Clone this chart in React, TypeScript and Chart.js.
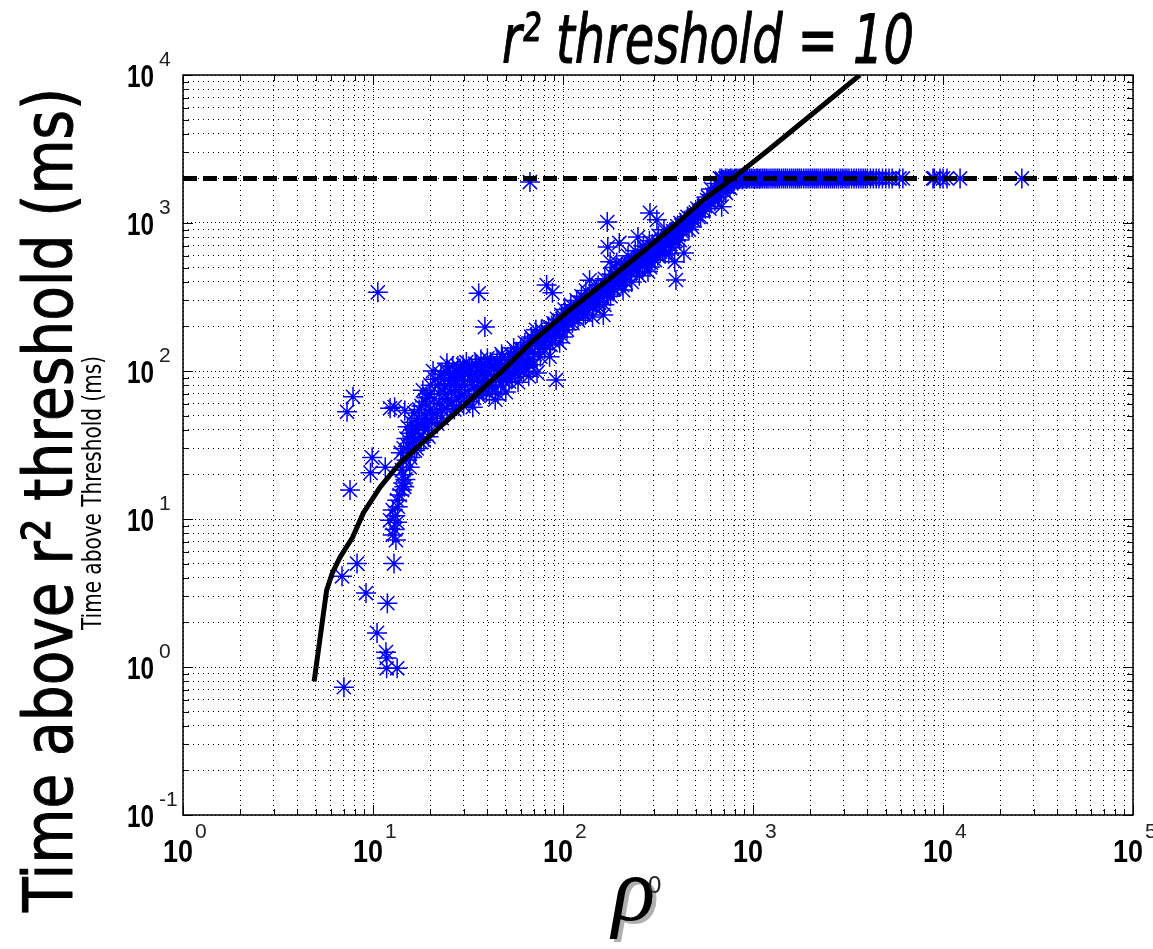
import React, { useEffect, useRef } from 'react';
import { Chart, registerables } from 'chart.js';

Chart.register(...registerables);

const W = 1153;
const H = 949;

// ---- text ----
const titleText = 'r² threshold = 10';
const yLabelMain = 'Time above r² threshold (ms)';
const yLabelSub = 'Time above Threshold (ms)';
const xLabelSymbol = 'ρ';
const xLabelSup = '0';

// ---- axes ----
const xMajorTicks = [1, 10, 100, 1000, 10000, 100000];
const xTickExponents = ['0', '1', '2', '3', '4', '5'];
const yMajorTicks = [0.1, 1, 10, 100, 1000, 10000];
const yTickExponents = ['-1', '0', '1', '2', '3', '4'];
const minorMultipliers = [2, 3, 4, 5, 6, 7, 8, 9];

// ---- fitted curve (solid black) ----
const fitX = [4.9, 5.7, 6.1, 6.7, 7.8, 8.9, 10.9, 13.9, 20.7, 31.2, 46.6, 69.5, 105, 157, 250, 400, 546, 800, 1200, 2000, 3650];
const fitY = [0.8, 3.3, 4.3, 5.5, 7.5, 11, 16.4, 24, 38, 61, 97, 160, 250, 375, 605, 1000, 1430, 2050, 3100, 5300, 10000];

// ---- threshold (dashed black) ----
const thresholdX = [1, 100000];
const thresholdY = [2000, 2000];

// ---- scatter (blue asterisks) ----
const outlierPoints: [number, number][] = [
  [10.6, 340], [36, 335], [38.8, 198], [67, 1890], [7.85, 67], [7.3, 53], [7.57, 15.7],
  [8.24, 5.0], [6.87, 4.1], [9.19, 3.16], [11.9, 2.7], [10.5, 1.7], [11.7, 1.26], [11.8, 1.15],
  [11.8, 0.98], [13.4, 0.98], [7.03, 0.73], [12.9, 5.0], [9.9, 26], [9.7, 20.5], [11.6, 22.4],
  [12.3, 56], [13.0, 57], [14.7, 54], [92, 87], [171, 1016], [393, 412],
];

const columnPoints: [number, number][] = [
  [12.7, 7.8], [12.3, 9.8], [13.4, 9.5], [12.7, 11.5], [13.5, 12.1], [13.4, 13.4], [14.2, 15.7],
  [14.4, 17.5], [14.4, 19.9], [14.2, 21.4], [15.6, 22.4], [13.0, 8.5], [13.8, 14.5], [14.8, 18.5],
  [13.1, 10.5], [15.0, 25], [14.0, 28], [13.2, 7.2], [14.6, 16.5],
];

const bandPointsLow: [number, number][] = [
  [14.5, 30], [15, 35], [15.2, 42], [15.5, 28], [15.8, 38], [16, 45], [16.3, 33], [16.5, 52],
  [16.8, 40], [17, 30], [17.3, 48], [17.6, 36], [18, 58], [18.2, 42], [18.3, 74], [18.5, 34],
  [18.8, 62], [19, 50], [19.4, 40], [19.8, 70], [20, 55], [20.3, 45], [20.7, 100], [21, 65],
  [21.5, 52], [22, 80], [22.5, 60], [23, 48], [23.5, 90], [24, 70], [24.5, 113], [24.5, 56],
  [25, 100], [25.5, 82], [26, 62], [26.5, 95], [27, 75], [27.5, 58], [28, 108], [28.5, 88],
  [29, 68], [30, 100], [30, 58], [30.5, 80], [31, 115], [32, 62], [32.5, 92], [33, 105],
  [33.5, 57], [34, 78], [34, 66], [35, 110], [35.5, 88], [36, 68], [37, 120], [37.5, 95],
  [38, 75], [38, 78], [39, 100], [40, 122], [40.5, 86], [41, 70], [42, 108], [42, 84], [43, 92],
  [44, 64], [45, 118], [46, 100], [47, 80], [47, 92], [48, 125], [49, 96], [50, 72], [51, 100],
  [52, 110], [53, 130], [54, 90], [55, 143], [56, 105], [57, 115], [58, 84], [59, 120], [60, 140],
  [61, 125], [62, 100], [63, 155], [65, 115], [66, 92], [66, 140], [68, 170], [69, 135], [70, 110],
  [71, 150], [72, 190], [73, 97], [74, 150], [76, 125], [77, 165], [78, 175], [80, 140], [82, 381],
  [83, 180], [85, 125], [88, 338], [88, 160], [88, 195], [90, 180], [94, 210], [95, 200],
  [96, 155], [99, 225], [100, 210], [100, 170],
];

const bandPointsLowExtra: [number, number][] = [
  [15.3, 31], [15.7, 26], [16.1, 36], [16.6, 29], [17.1, 43], [17.5, 55], [17.9, 33], [18.6, 47],
  [19.2, 66], [19.6, 36], [20.1, 80], [20.5, 50], [21.2, 88], [21.8, 44], [22.3, 70], [22.8, 95],
  [23.2, 55], [23.8, 78], [24.2, 100], [24.8, 64], [25.3, 90], [25.8, 72], [26.3, 108], [26.8, 55],
  [27.3, 85], [27.8, 98], [28.3, 66], [28.8, 104], [29.3, 80], [29.8, 110], [30.3, 70], [31.5, 95],
  [32.2, 105], [33.2, 85], [34.5, 112], [35.2, 75], [36.5, 100], [37.2, 85], [38.5, 110], [39.5, 72],
  [40.2, 95], [41.5, 115], [42.5, 78], [43.5, 105], [44.5, 88], [45.5, 70], [46.5, 112], [47.5, 130],
  [48.5, 86], [49.5, 110], [51, 120], [52, 85], [53, 98], [55, 125], [56, 95], [57, 135], [58, 105],
  [60, 118], [62, 135], [64, 105], [65, 150], [67, 120], [69, 165], [71, 130], [73, 175], [75, 140],
  [77, 190], [79, 155], [81, 170], [84, 200], [86, 150], [89, 210], [91, 175], [93, 225], [97, 190],
  [98, 240],
];

const bandPointsHigh: [number, number][] = [
  [102, 260], [105, 190], [108, 230], [110, 280], [110, 260], [112, 211], [115, 250], [118, 300],
  [120, 220], [122, 270], [125, 320], [128, 240], [130, 290], [130, 310], [132, 350], [135, 260],
  [138, 410], [140, 300], [143, 232], [146, 330], [150, 280], [150, 350], [153, 380], [156, 310],
  [160, 350], [163, 239], [166, 420], [170, 330], [172, 688], [175, 380], [175, 410], [177, 547],
  [180, 450], [184, 360], [188, 500], [192, 540], [196, 410], [198, 733], [200, 470], [200, 460],
  [205, 380], [207, 352], [210, 520], [215, 440], [220, 600], [225, 480], [230, 400], [230, 530],
  [235, 560], [240, 650], [245, 500], [248, 804], [252, 440], [258, 580], [260, 600], [265, 700],
  [270, 520], [275, 620], [280, 470], [285, 760], [287, 504], [287, 1170], [292, 600], [298, 680],
  [300, 690], [305, 560], [312, 1050], [318, 820], [325, 640], [335, 657], [340, 900], [340, 780],
  [350, 720], [360, 620], [370, 850], [380, 760], [380, 880], [387, 547], [393, 767], [400, 950],
  [411, 767], [420, 880], [420, 960], [433, 627], [445, 1050], [460, 900], [470, 1080], [478, 940],
  [490, 1150], [510, 1250], [520, 1200], [530, 1100], [550, 1350], [573, 1430], [590, 1250],
  [600, 1400], [600, 1700], [610, 1550], [630, 1400], [640, 1850], [650, 1650], [650, 1500],
  [684, 1290], [690, 1950], [700, 1750], [700, 1650], [720, 1600], [720, 1800], [740, 1850],
  [757, 1723], [760, 1960], [780, 1900], [800, 1990], [850, 1980],
];

const bandPointsHighExtra: [number, number][] = [
  [101, 200], [104, 240], [107, 210], [111, 245], [114, 225], [117, 270], [121, 250], [124, 290],
  [127, 265], [131, 240], [134, 300], [137, 280], [142, 320], [145, 270], [148, 300], [152, 330],
  [155, 290], [158, 360], [162, 310], [165, 280], [168, 370], [172, 340], [178, 320], [182, 400],
  [186, 360], [190, 430], [194, 380], [199, 420], [203, 500], [208, 450], [213, 400], [218, 480],
  [223, 520], [228, 460], [233, 500], [238, 560], [243, 470], [250, 540], [255, 600], [262, 520],
  [268, 580], [273, 660], [278, 560], [283, 610], [290, 540], [295, 720], [302, 620], [308, 660],
  [315, 600], [322, 700], [330, 760], [338, 690], [345, 620], [355, 800], [365, 720], [375, 680],
  [385, 820], [395, 900], [405, 830], [415, 1000], [428, 900], [440, 960], [452, 1100], [465, 1000],
  [485, 1050], [500, 1180], [515, 1100], [540, 1250], [560, 1300], [580, 1500], [620, 1500],
  [660, 1600], [680, 1700], [710, 1900], [735, 1750], [770, 1850],
];

const plateauPoints: [number, number][] = [
  [670, 2000], [700, 1950], [730, 2000], [760, 2000], [790, 1960], [820, 2000], [850, 2000],
  [880, 1970], [910, 2000], [940, 2000], [980, 2000], [1020, 1980], [1060, 2000], [1100, 2000],
  [1150, 2000], [1200, 1990], [1260, 2000], [1320, 2000], [1380, 2000], [1450, 2000], [1520, 2000],
  [1600, 2000], [1680, 2000], [1760, 2000], [1850, 2000], [1950, 2000], [2050, 2000], [2150, 2000],
  [2260, 2000], [2380, 2000], [2500, 2000], [2620, 2000], [2750, 2000], [2900, 2000], [3050, 2000],
  [3200, 2000], [3400, 2000], [3600, 2000], [3800, 2000], [4000, 2000], [4300, 2000], [4600, 2000],
  [5000, 2000], [5400, 2000], [5900, 2000], [8860, 2000], [9640, 2000], [10500, 2000],
  [12300, 2000], [26000, 2000],
];

const plateauPointsExtra: [number, number][] = [
  [685, 2000], [715, 2000], [745, 1980], [775, 2000], [805, 2000], [835, 1990], [865, 2000],
  [895, 2000], [925, 1990], [960, 2000], [1000, 2000], [1040, 2000], [1080, 1990], [1125, 2000],
  [1175, 2000], [1230, 2000], [1290, 2000], [1350, 2000], [1415, 2000], [1485, 2000], [1560, 2000],
  [1640, 2000], [1720, 2000], [1800, 2000], [1900, 2000], [2000, 2000], [2100, 2000], [2200, 2000],
  [2320, 2000], [2440, 2000], [2560, 2000], [2680, 2000], [2820, 2000], [2970, 2000], [3120, 2000],
  [3300, 2000], [3500, 2000], [3700, 2000], [3900, 2000], [4150, 2000], [4450, 2000], [4800, 2000],
  [5200, 2000], [6150, 2000], [9000, 2000], [10000, 2000],
];

// ---- helpers ----
function buildTicks(majors: number[]): number[] {
  const out: number[] = [];
  for (let i = 0; i < majors.length - 1; i++) {
    out.push(majors[i]);
    for (const m of minorMultipliers) out.push(majors[i] * m);
  }
  out.push(majors[majors.length - 1]);
  return out;
}

function isMajorValue(v: number): boolean {
  const l = Math.log10(v);
  return Math.abs(l - Math.round(l)) < 1e-6;
}

type TextOpts = {
  width?: number;
  align?: 'left' | 'right' | 'center';
  rotate?: number;
  color?: string;
  stroke?: number;
};

function drawText(ctx: CanvasRenderingContext2D, text: string, x: number, y: number, font: string, opts: TextOpts = {}) {
  ctx.save();
  ctx.font = font;
  ctx.fillStyle = opts.color || '#000';
  ctx.strokeStyle = opts.color || '#000';
  ctx.textBaseline = 'alphabetic';
  ctx.textAlign = 'left';
  const w = ctx.measureText(text).width;
  const sx = opts.width ? opts.width / w : 1;
  const dw = w * sx;
  ctx.translate(x, y);
  if (opts.rotate) ctx.rotate(opts.rotate);
  let ox = 0;
  if (opts.align === 'center') ox = -dw / 2;
  else if (opts.align === 'right') ox = -dw;
  ctx.translate(ox, 0);
  ctx.scale(sx, 1);
  ctx.fillText(text, 0, 0);
  if (opts.stroke) {
    ctx.lineWidth = opts.stroke;
    ctx.lineJoin = 'round';
    ctx.strokeText(text, 0, 0);
  }
  ctx.restore();
}

const tenFont = 'bold 32px "Liberation Sans", Arial, sans-serif';
const expFont = '21px "Liberation Sans Narrow", "Liberation Sans", sans-serif';
const narrow = '"Liberation Sans Narrow", "DejaVu Sans Condensed", sans-serif';

const decorPlugin = {
  id: 'matlabDecor',
  afterDraw(chart: any) {
    const ctx: CanvasRenderingContext2D = chart.ctx;
    const { left, right, top, bottom } = chart.chartArea;
    const xs = chart.scales.x;
    const ys = chart.scales.y;

    // frame
    ctx.save();
    ctx.strokeStyle = '#000';
    ctx.lineWidth = 1.5;
    ctx.strokeRect(left, top, right - left, bottom - top);

    // inward ticks
    ctx.lineWidth = 1;
    ctx.beginPath();
    for (const v of buildTicks(xMajorTicks)) {
      const px = Math.round(xs.getPixelForValue(v)) + 0.5;
      const len = isMajorValue(v) ? 10 : 6;
      ctx.moveTo(px, bottom); ctx.lineTo(px, bottom - len);
      ctx.moveTo(px, top); ctx.lineTo(px, top + len);
    }
    for (const v of buildTicks(yMajorTicks)) {
      const py = Math.round(ys.getPixelForValue(v)) + 0.5;
      const len = isMajorValue(v) ? 10 : 6;
      ctx.moveTo(left, py); ctx.lineTo(left + len, py);
      ctx.moveTo(right, py); ctx.lineTo(right - len, py);
    }
    ctx.stroke();
    ctx.restore();

    // tick labels
    xMajorTicks.forEach((v, i) => {
      const px = xs.getPixelForValue(v);
      drawText(ctx, '10', px + 10, bottom + 47, tenFont, { width: 30, align: 'right' });
      drawText(ctx, xTickExponents[i], px + 12, bottom + 23, expFont, { color: '#222' });
    });
    yMajorTicks.forEach((v, i) => {
      const py = ys.getPixelForValue(v);
      drawText(ctx, '10', left - 29, py + 11.5, tenFont, { width: 27, align: 'right' });
      drawText(ctx, yTickExponents[i], left - 24, py - 9, expFont, { color: '#222' });
    });

    // title
    drawText(ctx, titleText, 502, 63, `italic 68px ${narrow}`, { width: 412, stroke: 1 });

    // y labels
    drawText(ctx, yLabelMain, 72, 500, `68px ${narrow}`, {
      width: 824, align: 'center', rotate: -Math.PI / 2, stroke: 1,
    });
    drawText(ctx, yLabelSub, 101, 493, `26px ${narrow}`, {
      width: 274, align: 'center', rotate: -Math.PI / 2,
    });

    // x label: rho with shadow and superscript
    const rhoFont = 'italic 90px "Liberation Serif", "DejaVu Serif", serif';
    drawText(ctx, xLabelSymbol, 616, 923, rhoFont, { color: '#b0b0b0' });
    drawText(ctx, xLabelSymbol, 612, 920, rhoFont);
    drawText(ctx, xLabelSup, 648, 893, '24px "Liberation Sans Narrow", "Liberation Sans", sans-serif', { color: '#222' });
  },
};

const toXY = (xs: number[], ys: number[]) => xs.map((x, i) => ({ x, y: ys[i] }));
const pairsToXY = (p: [number, number][]) => p.map(([x, y]) => ({ x, y }));

export default function App() {
  const ref = useRef<HTMLCanvasElement | null>(null);

  useEffect(() => {
    if (!ref.current) return;
    const scatterData = [
      ...pairsToXY(outlierPoints),
      ...pairsToXY(columnPoints),
      ...pairsToXY(bandPointsLow),
      ...pairsToXY(bandPointsLowExtra),
      ...pairsToXY(bandPointsHigh),
      ...pairsToXY(bandPointsHighExtra),
      ...pairsToXY(plateauPoints),
      ...pairsToXY(plateauPointsExtra),
    ];
    const gridDash = (c: any) => (c.tick && isMajorValue(c.tick.value) ? [1, 3] : [1, 4]);

    const chart = new Chart(ref.current, {
      type: 'scatter',
      data: {
        datasets: [
          {
            label: 'fit',
            data: toXY(fitX, fitY),
            showLine: true,
            borderColor: '#000',
            backgroundColor: '#000',
            borderWidth: 5,
            pointRadius: 0,
            tension: 0,
            borderCapStyle: 'butt',
            borderJoinStyle: 'round',
          },
          {
            label: 'threshold',
            data: toXY(thresholdX, thresholdY),
            showLine: true,
            borderColor: '#000',
            borderWidth: 5,
            borderDash: [14, 6],
            borderCapStyle: 'butt',
            pointRadius: 0,
          },
          {
            label: 'data',
            data: scatterData,
            pointStyle: 'star',
            pointRadius: 10,
            pointHoverRadius: 10,
            borderColor: '#0000ff',
            backgroundColor: '#0000ff',
            borderWidth: 1.5,
            showLine: false,
          },
        ],
      },
      options: {
        animation: false,
        responsive: false,
        devicePixelRatio: 1,
        events: [],
        layout: { padding: { left: 183, top: 75, right: 20, bottom: 134 } },
        plugins: { legend: { display: false }, tooltip: { enabled: false }, title: { display: false } },
        scales: {
          x: {
            type: 'logarithmic',
            min: 1,
            max: 100000,
            afterBuildTicks: (s: any) => { s.ticks = buildTicks(xMajorTicks).map((v) => ({ value: v })); },
            ticks: { display: false },
            grid: { drawTicks: false, color: '#000', lineWidth: 1 },
            border: { display: false, dash: gridDash },
          },
          y: {
            type: 'logarithmic',
            min: 0.1,
            max: 10000,
            afterBuildTicks: (s: any) => { s.ticks = buildTicks(yMajorTicks).map((v) => ({ value: v })); },
            ticks: { display: false },
            grid: { drawTicks: false, color: '#000', lineWidth: 1 },
            border: { display: false, dash: gridDash },
          },
        },
      } as any,
      plugins: [decorPlugin],
    });
    return () => chart.destroy();
  }, []);

  return (
    <div style={{ position: 'absolute', left: 0, top: 0, width: W, height: H, background: '#fff' }}>
      <canvas ref={ref} width={W} height={H} style={{ width: W, height: H, display: 'block' }} />
    </div>
  );
}
